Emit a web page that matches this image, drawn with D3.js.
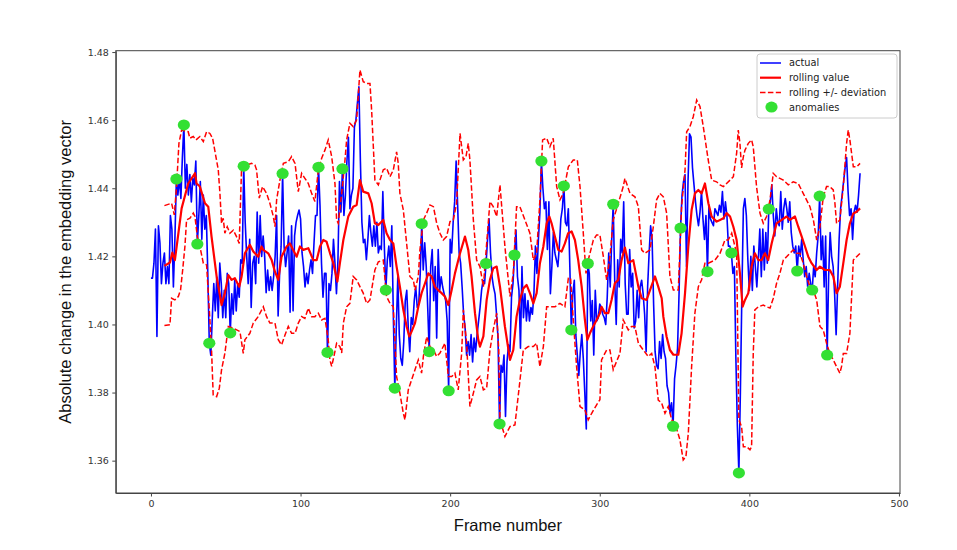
<html>
  <head>
    <script src="https://cdn.jsdelivr.net/npm/d3@7/dist/d3.min.js"></script>
    <style>
  body {
    margin: 0;
    background-color: #ffffff;
  }
  .tick text {
    font-family: "DejaVu Sans", sans-serif;
    font-size: 9.5px;
    fill: #333;
  }
  .tick line, .domain {
    stroke: #444;
  }
  .axis-label {
    font-family: "Liberation Sans", Arial, sans-serif;
    font-size: 16.5px;
    fill: #111;
  }
  .legend-text {
    font-family: "DejaVu Sans", sans-serif;
    font-size: 9.8px;
    fill: #222;
  }
    </style>
  </head>
  <body>
    <div id="chart"></div>
    <script>

// absolute change per frame (frame = index)
const actual = [
  1.4136,1.4136,1.418,1.428,1.3965,1.429,1.424,1.412,1.418,1.421,
  1.412,1.417,1.412,1.432,1.428,1.411,1.425,1.4427,1.438,1.443,
  1.437,1.449,1.4586,1.440,1.447,1.438,1.444,1.436,1.443,1.441,
  1.448,1.4236,1.432,1.442,1.425,1.438,1.428,1.432,1.415,1.3945,
  1.391,1.402,1.412,1.404,1.414,1.402,1.418,1.412,1.402,1.410,
  1.402,1.415,1.412,1.3975,1.409,1.403,1.413,1.404,1.412,1.408,
  1.419,1.418,1.4465,1.430,1.420,1.412,1.425,1.405,1.418,1.420,
  1.412,1.433,1.418,1.432,1.420,1.426,1.420,1.4093,1.416,1.410,
  1.414,1.410,1.414,1.420,1.432,1.4025,1.415,1.423,1.4443,1.4229,
  1.417,1.421,1.426,1.4036,1.429,1.404,1.426,1.430,1.432,1.4336,
  1.431,1.421,1.417,1.411,1.415,1.412,1.416,1.419,1.415,1.424,
  1.432,1.432,1.4462,1.435,1.418,1.408,1.415,1.415,1.3918,1.412,
  1.410,1.415,1.425,1.418,1.409,1.419,1.442,1.433,1.4457,1.432,
  1.438,1.448,1.455,1.434,1.438,1.440,1.458,1.460,1.465,1.4698,
  1.448,1.430,1.424,1.425,1.419,1.425,1.432,1.427,1.423,1.429,
  1.423,1.430,1.421,1.423,1.422,1.439,1.423,1.4101,1.419,1.423,
  1.417,1.429,1.403,1.3813,1.399,1.414,1.397,1.390,1.388,1.395,
  1.407,1.410,1.399,1.392,1.402,1.400,1.407,1.411,1.405,1.406,
  1.415,1.4296,1.416,1.424,1.417,1.405,1.392,1.417,1.422,1.407,
  1.417,1.396,1.422,1.410,1.414,1.411,1.409,1.407,1.401,1.3805,
  1.425,1.421,1.430,1.436,1.448,1.435,1.421,1.418,1.411,1.403,
  1.399,1.391,1.395,1.391,1.397,1.389,1.396,1.392,1.397,1.401,
  1.405,1.410,1.413,1.412,1.4179,1.425,1.431,1.421,1.414,1.411,
  1.409,1.403,1.396,1.3708,1.388,1.386,1.391,1.373,1.389,1.394,
  1.392,1.408,1.412,1.4204,1.4277,1.414,1.410,1.393,1.417,1.402,
  1.409,1.401,1.407,1.401,1.405,1.403,1.409,1.423,1.415,1.425,
  1.433,1.448,1.440,1.434,1.436,1.422,1.436,1.409,1.417,1.427,
  1.421,1.419,1.417,1.423,1.431,1.434,1.4407,1.430,1.429,1.434,
  1.417,1.3984,1.409,1.413,1.397,1.391,1.385,1.392,1.397,1.390,
  1.380,1.3693,1.4179,1.415,1.401,1.407,1.391,1.410,1.401,1.402,
  1.406,1.405,1.403,1.402,1.400,1.408,1.421,1.411,1.425,1.4353,
  1.413,1.400,1.419,1.411,1.425,1.421,1.436,1.412,1.403,1.403,
  1.422,1.411,1.415,1.399,1.401,1.410,1.402,1.411,1.413,1.409,
  1.403,1.392,1.411,1.421,1.429,1.425,1.406,1.392,1.388,1.387,
  1.395,1.390,1.397,1.392,1.390,1.382,1.380,1.374,1.377,1.3701,
  1.384,1.388,1.393,1.409,1.4283,1.438,1.442,1.444,1.417,1.442,
  1.456,1.455,1.446,1.441,1.436,1.432,1.429,1.433,1.439,1.431,
  1.425,1.432,1.4155,1.435,1.431,1.430,1.429,1.434,1.433,1.432,
  1.435,1.433,1.439,1.431,1.436,1.432,1.423,1.423,1.421,1.415,
  1.417,1.390,1.370,1.3564,1.380,1.409,1.434,1.437,1.432,1.419,
  1.410,1.420,1.410,1.423,1.417,1.411,1.419,1.428,1.414,1.428,
  1.416,1.427,1.418,1.4339,1.436,1.441,1.432,1.426,1.434,1.430,
  1.429,1.439,1.428,1.434,1.437,1.434,1.430,1.436,1.427,1.423,
  1.421,1.423,1.4157,1.423,1.420,1.425,1.419,1.414,1.417,1.411,
  1.415,1.412,1.4101,1.417,1.414,1.421,1.426,1.4377,1.419,1.426,
  1.411,1.426,1.391,1.414,1.427,1.420,1.417,1.409,1.397,1.411,
  1.425,1.434,1.438,1.442,1.446,1.449,1.439,1.432,1.434,1.425,
  1.433,1.435,1.433,1.438,1.4444
];

// [frame, value]
const rollingValue = [
  [9,1.4172],[12.7,1.4182],[14.3,1.4211],[16,1.4189],[20.5,1.4341],[24.9,1.4414],[29.4,1.4444],[30.5,1.4414],
  [32.7,1.4405],[36.1,1.4356],[38.3,1.4346],[40.5,1.4258],[43.9,1.4141],[47.2,1.4057],[49.4,1.4092],[51.7,1.4145],
  [53.9,1.4131],[56.1,1.4136],[59,1.4111],[60.6,1.4141],[62.8,1.4209],[66.1,1.4234],[68.4,1.4214],[71.7,1.4199],
  [73.9,1.4229],[75.1,1.4219],[78.4,1.4209],[80.7,1.4189],[82.9,1.4155],[85.1,1.4131],[87.3,1.4199],[90.7,1.4229],
  [92.9,1.4238],[95.1,1.4219],[97.4,1.4199],[99.6,1.4229],[101.8,1.4219],[105.2,1.4224],[108.5,1.4189],[110.8,1.4189],
  [113,1.4229],[115.2,1.4248],[117.4,1.4243],[119.7,1.4209],[121.9,1.418],[124.6,1.4126],[126.3,1.418],[128.6,1.4248],
  [131.9,1.4317],[135.2,1.4346],[137.5,1.4351],[139.7,1.4424],[141.9,1.439],[145.3,1.4385],[147.5,1.4356],[149.7,1.4297],
  [152,1.4292],[155.3,1.4307],[157.5,1.4268],[159.8,1.4248],[162,1.4238],[164.2,1.417],[166.4,1.4111],[168.7,1.4043],
  [170.9,1.3994],[172.7,1.3965],[174.2,1.3979],[176.5,1.4004],[178.7,1.4052],[180.9,1.4092],[183.2,1.4121],[185.4,1.415],
  [187.6,1.4141],[189.8,1.4111],[192,1.4101],[194.3,1.4092],[196.5,1.4082],[198.8,1.4057],[201,1.4101],[203.2,1.415],
  [206.6,1.4209],[209.9,1.4258],[212.1,1.4219],[214.3,1.4141],[216.6,1.4033],[218.8,1.3955],[219.9,1.3935],[222.2,1.3965],
  [224.4,1.4072],[226.6,1.4131],[228.8,1.4165],[231.1,1.417],[233.3,1.4111],[236.6,1.3994],[240,1.3896],[242.2,1.3925],
  [244.4,1.4023],[246.6,1.4072],[248.9,1.4106],[251.1,1.4116],[253.3,1.4092],[255.6,1.4062],[257.8,1.4092],[260,1.418],
  [262.3,1.4229],[264.5,1.4297],[266.3,1.4317],[267.8,1.4297],[270,1.4258],[272.3,1.4219],[274.5,1.4214],[276.7,1.4238],
  [278.9,1.4268],[281.2,1.4273],[283.4,1.4248],[285.6,1.4189],[287.9,1.4111],[290.1,1.4013],[291.7,1.3955],[293.4,1.3974],
  [295.6,1.3994],[297.9,1.4013],[300.1,1.4033],[301.2,1.4052],[303.5,1.4033],[305.7,1.4033],[307.9,1.4072],[310.1,1.4121],
  [312.4,1.4131],[314.6,1.4189],[316.8,1.4226],[319.1,1.418],[322.4,1.4189],[325.8,1.4111],[328,1.4077],[331.3,1.4072],
  [333.6,1.4101],[336.9,1.4141],[339.1,1.4111],[341.4,1.4077],[342.5,1.4023],[344.7,1.3964],[346.9,1.3925],[349.2,1.3911],
  [352.5,1.3911],[354.7,1.3974],[357,1.4092],[359.2,1.4229],[361.4,1.4336],[363.6,1.4385],[365.9,1.4395],[368.1,1.4385],
  [370.3,1.4414],[372.6,1.4356],[374.8,1.4317],[378.1,1.4302],[380.4,1.4307],[382.6,1.4312],[384.8,1.4327],[387.1,1.4317],
  [389.3,1.4287],[391.5,1.4248],[393.7,1.415],[395.5,1.4052],[397.1,1.4072],[399.3,1.4092],[401.5,1.417],[403.7,1.4209],
  [406,1.4189],[408.2,1.4189],[410.4,1.4209],[412.6,1.4189],[414.9,1.4238],[418.2,1.4297],[421.6,1.4307],[424.9,1.4317],
  [427.1,1.4307],[430.5,1.4317],[432.7,1.4287],[435,1.4258],[437.2,1.4229],[439.4,1.4199],[441.6,1.418],[445,1.416],
  [447.2,1.417],[450.5,1.416],[453.8,1.416],[456.1,1.4141],[458.3,1.4092],[460.5,1.4111],[462.8,1.418],[465,1.4248],
  [467.2,1.4297],[469.5,1.4326],[471.7,1.4331],[474,1.4341]
];

const rollingUpper = [
  [9,1.4349],[13.8,1.4356],[15.6,1.4322],[17.1,1.4405],[18.7,1.4532],[20.5,1.4571],[24.9,1.4566],[26,1.4547],
  [28.3,1.4552],[30.1,1.4542],[32.7,1.4552],[35,1.4537],[37.2,1.4566],[39.4,1.4561],[41.2,1.4547],[45,1.4454],
  [46.1,1.4385],[47.2,1.4297],[48.3,1.4312],[49.4,1.4268],[51,1.4287],[52.8,1.4268],[55,1.4277],[57.2,1.4258],
  [59,1.4238],[60.6,1.4463],[63.9,1.4468],[67.3,1.4473],[69.5,1.4468],[70.6,1.4454],[72.4,1.4371],[74.6,1.4405],
  [77.3,1.4385],[79.5,1.4356],[81.8,1.4317],[82.9,1.4287],[84,1.4366],[86.2,1.4424],[88.5,1.4473],[91.8,1.4478],
  [94,1.4493],[96.3,1.4473],[98.5,1.439],[100.7,1.4444],[102.9,1.4429],[105.2,1.4414],[107.4,1.4385],[109.6,1.4361],
  [111.9,1.4454],[114.1,1.4488],[116.3,1.4512],[118.5,1.4542],[120.8,1.4493],[123,1.4414],[124.1,1.4307],[125.2,1.4297],
  [127.5,1.4385],[129.7,1.4483],[130.8,1.4542],[133,1.4591],[135.2,1.4581],[137.5,1.4601],[139.7,1.4747],[141.9,1.4713],
  [144.2,1.4708],[146.4,1.4708],[147.5,1.463],[149.7,1.4424],[152,1.441],[155.3,1.4454],[157.5,1.4459],[159.8,1.4434],
  [162,1.4454],[164.2,1.4507],[165.3,1.4473],[166.4,1.4385],[168.7,1.4336],[170.9,1.4238],[173.1,1.4141],[175.4,1.4131],
  [176.5,1.4101],[178.7,1.4141],[179.8,1.4219],[182.1,1.4307],[184.3,1.4327],[186.5,1.4351],[188.8,1.4346],[191,1.4297],
  [193.2,1.4268],[195.4,1.4248],[197.6,1.4258],[199.9,1.4302],[202.1,1.4307],[204.3,1.4356],[206.6,1.4561],[208.8,1.4483],
  [210.6,1.4493],[212.1,1.4532],[213.2,1.4483],[215.5,1.4307],[217.7,1.4189],[219.9,1.417],[222.2,1.4111],[224.4,1.4238],
  [226.6,1.4361],[228.8,1.4346],[231.1,1.4317],[233.3,1.441],[236.6,1.4229],[240,1.4082],[242.2,1.415],[244.4,1.4346],
  [246.6,1.4346],[250,1.4307],[253.3,1.4268],[255.6,1.4189],[257.8,1.4209],[260,1.4366],[261.8,1.4542],[264.5,1.4547],
  [266.7,1.4522],[268.9,1.4547],[271.2,1.4405],[273.4,1.4366],[275.6,1.4385],[279,1.4463],[282.3,1.4483],[285,1.4483],
  [286.8,1.4405],[289,1.4268],[290.8,1.415],[292.3,1.4189],[295.7,1.4248],[297.9,1.4263],[300.1,1.4263],[302.4,1.4199],
  [304.6,1.4131],[306.8,1.4199],[309,1.4307],[312.4,1.4356],[315.7,1.4405],[316.8,1.4429],[320.2,1.4385],[323.5,1.4375],
  [325.8,1.4346],[328,1.4219],[330.2,1.4209],[333.6,1.4219],[335.8,1.4287],[338,1.4366],[340.2,1.4385],[342.5,1.4375],
  [344.7,1.4327],[346.9,1.4141],[349.2,1.4101],[352.5,1.4101],[354.7,1.4346],[357,1.4454],[358.1,1.4566],[360.3,1.4581],
  [362.5,1.461],[364.8,1.4659],[367,1.464],[369.2,1.4581],[372.5,1.4483],[374.8,1.4424],[378.1,1.4419],[380.4,1.441],
  [382.6,1.4405],[387.1,1.4424],[389.3,1.4434],[391.5,1.4503],[392.6,1.4571],[393.7,1.4532],[394.8,1.446],[396,1.4493],
  [397.1,1.4512],[399.3,1.4532],[401.5,1.4542],[402.6,1.4522],[404.8,1.4405],[407.1,1.4327],[409.3,1.4297],[411.5,1.4317],
  [413.8,1.4366],[416,1.4444],[418.2,1.4434],[420.4,1.4429],[422.7,1.4424],[426,1.441],[429.3,1.4419],[432.7,1.4414],
  [436,1.4385],[440.5,1.4346],[442.8,1.4307],[445,1.4248],[447.2,1.4287],[449.4,1.4375],[451.6,1.4405],[453.8,1.4405],
  [456.1,1.4395],[457.2,1.4356],[458.3,1.4297],[460.5,1.4307],[462.8,1.4405],[465,1.4532],[466.1,1.4571],[467.2,1.4542],
  [469.5,1.4463],[471.7,1.4463],[474,1.4473]
];

const rollingLower = [
  [9,1.3997],[12.7,1.3999],[13.8,1.4077],[16,1.4072],[18.3,1.4082],[19.8,1.4102],[21.2,1.416],[22.7,1.4229],
  [23.8,1.4307],[26.1,1.4312],[28.3,1.4327],[29.4,1.4317],[31,1.4258],[32.7,1.4229],[35,1.418],[37.2,1.4175],
  [39.4,1.4013],[40.5,1.3925],[41.6,1.3793],[43.9,1.3788],[45.7,1.3813],[47.2,1.3867],[49.4,1.3915],[51.7,1.3994],
  [55,1.3989],[59.5,1.3979],[61.7,1.3915],[62.8,1.3955],[66.1,1.3974],[68.4,1.4004],[71.7,1.4023],[75.1,1.4052],
  [77.3,1.4023],[79.5,1.4004],[82.9,1.4004],[85.1,1.3955],[87.3,1.394],[89.6,1.3969],[91.8,1.3994],[94,1.3974],
  [96.3,1.3974],[98.5,1.4004],[100.7,1.4023],[102.9,1.4018],[105.2,1.4048],[107.4,1.4023],[109.6,1.4023],[111.9,1.4033],
  [114.1,1.4013],[116.3,1.4018],[118.5,1.3955],[119.6,1.3896],[120.8,1.3877],[122.3,1.3906],[124.1,1.3945],[126.3,1.3935],
  [127.5,1.3916],[128.6,1.4004],[130.8,1.4052],[133,1.4062],[135.2,1.4141],[137.5,1.4131],[139.7,1.4111],[141.9,1.4092],
  [144.2,1.4062],[146.4,1.4072],[149.7,1.416],[152,1.4184],[155.3,1.4189],[157.5,1.4082],[159.8,1.4062],[162,1.4052],
  [164.2,1.3847],[166.4,1.3798],[168.7,1.3739],[169.8,1.372],[172,1.3808],[174.2,1.3837],[176.5,1.3867],[178.7,1.3896],
  [180.9,1.3857],[182.1,1.3906],[184.3,1.3964],[186.5,1.3935],[188.8,1.3925],[191,1.3906],[193.2,1.3916],[196.5,1.3945],
  [198.8,1.3847],[201,1.3847],[203.2,1.3857],[205.4,1.3808],[207.7,1.3916],[208.8,1.4043],[211,1.3945],[213.2,1.3759],
  [215.5,1.3798],[217.7,1.3837],[219.9,1.3847],[222.2,1.3808],[224.4,1.3813],[226.6,1.3925],[228.8,1.3984],[231.1,1.4033],
  [232.5,1.3925],[233.3,1.372],[236.6,1.3671],[240,1.37],[243.3,1.3705],[246.7,1.3837],[248.9,1.3925],[252.2,1.3935],
  [255.6,1.3935],[257.8,1.3945],[260,1.3876],[262.3,1.3935],[264.5,1.4052],[270.1,1.4052],[273.4,1.4062],[276.7,1.4052],
  [279,1.4136],[280.5,1.4136],[282.3,1.4013],[284.5,1.3877],[286.8,1.3759],[290.1,1.3749],[292.3,1.372],[294.6,1.3739],
  [297.9,1.3764],[300.1,1.3779],[301.2,1.3896],[304.6,1.3925],[306.8,1.3925],[309,1.3867],[311.2,1.3891],[313.5,1.3915],
  [315.7,1.4013],[319.1,1.3984],[321.3,1.3994],[323.5,1.3994],[325.8,1.3945],[329.1,1.3925],[332.4,1.3906],[334.7,1.3915],
  [336.9,1.3876],[339.1,1.3778],[341.4,1.3769],[343.6,1.3739],[345.8,1.3759],[348.1,1.372],[350.3,1.371],[353.6,1.3661],
  [355.8,1.3602],[357.6,1.3612],[359.2,1.3681],[361.4,1.3876],[363.6,1.4033],[365.9,1.4111],[368.1,1.4131],[370.3,1.418],
  [372.6,1.418],[377,1.4189],[380.4,1.4209],[383.7,1.4248],[385.9,1.4248],[388.2,1.4268],[391.5,1.4209],[393,1.372],
  [394.8,1.37],[396,1.3641],[398.2,1.3641],[400.4,1.3632],[401.5,1.3641],[402.6,1.3915],[403.7,1.4043],[406,1.4052],
  [409.3,1.4057],[411.5,1.4052],[413.8,1.4048],[416,1.4077],[418.2,1.4121],[420.4,1.415],[422.7,1.4189],[424.9,1.4199],
  [427.1,1.4209],[429.3,1.4219],[431.6,1.4209],[433.8,1.4209],[436,1.418],[438.3,1.4141],[440.5,1.4111],[442.7,1.4101],
  [445,1.4072],[447.2,1.3994],[449.4,1.3984],[451.6,1.3945],[453.8,1.3915],[456.1,1.3896],[458.3,1.3876],[460.5,1.3857],
  [461.6,1.3876],[462.8,1.3915],[465,1.3915],[467.2,1.3974],[469.5,1.4189],[471.7,1.4199],[474,1.4209]
];

// frames flagged as anomalies (value taken from actual)
const anomalyFrames = [17,22,31,39,53,62,88,112,118,128,157,163,181,186,199,224,233,243,
  261,276,281,292,309,349,354,372,388,393,413,432,442,447,452];

const xTicks = [0, 100, 200, 300, 400, 500];
const yTicks = [1.36, 1.38, 1.40, 1.42, 1.44, 1.46, 1.48];
const legendLabels = ["actual", "rolling value", "rolling +/- deviation", "anomalies"];

const width = 957;
const height = 550;
const plot = { left: 115.8, right: 900, top: 50.7, bottom: 493 };

const svg = d3.select("#chart")
  .append("svg")
  .attr("width", width)
  .attr("height", height);

const x = d3.scaleLinear().domain([-23.5, 500.7]).range([plot.left, plot.right]);
const y = d3.scaleLinear().domain([1.3505, 1.4804]).range([plot.bottom, plot.top]);

// axes
svg.append("g")
  .attr("transform", `translate(0, ${plot.bottom})`)
  .call(d3.axisBottom(x).tickValues(xTicks).tickFormat(d3.format("d")).tickSize(3.5).tickSizeOuter(0).tickPadding(3.5));

svg.append("g")
  .attr("transform", `translate(${plot.left}, 0)`)
  .call(d3.axisLeft(y).tickValues(yTicks).tickFormat(d3.format(".2f")).tickSize(3.5).tickSizeOuter(0).tickPadding(3.5));

const line = d3.line().x(d => x(d[0])).y(d => y(d[1]));

const g = svg.append("g");

g.append("path")
  .datum(actual.map((v, i) => [i, v]))
  .attr("d", line)
  .attr("fill", "none")
  .attr("stroke", "#0000ff")
  .attr("stroke-width", 1.6)
  .attr("stroke-linejoin", "round");

g.append("path")
  .datum(rollingValue)
  .attr("d", line)
  .attr("fill", "none")
  .attr("stroke", "#ff0000")
  .attr("stroke-width", 2.2)
  .attr("stroke-linejoin", "round");

[rollingUpper, rollingLower].forEach(band => {
  g.append("path")
    .datum(band)
    .attr("d", line)
    .attr("fill", "none")
    .attr("stroke", "#ff0000")
    .attr("stroke-width", 1.5)
    .attr("stroke-dasharray", "5.5,2.4");
});

g.selectAll(".anomaly")
  .data(anomalyFrames)
  .enter()
  .append("ellipse")
  .attr("class", "anomaly")
  .attr("cx", d => x(d))
  .attr("cy", d => y(actual[d]))
  .attr("rx", 6.1)
  .attr("ry", 5.5)
  .attr("fill", "#33e033");

// frame around the plot
svg.append("rect")
  .attr("x", plot.left)
  .attr("y", plot.top)
  .attr("width", plot.right - plot.left)
  .attr("height", plot.bottom - plot.top)
  .attr("fill", "none")
  .attr("stroke", "#444")
  .attr("stroke-width", 1);

// axis labels
svg.append("text")
  .attr("class", "axis-label")
  .attr("x", (plot.left + plot.right) / 2)
  .attr("y", 531)
  .attr("text-anchor", "middle")
  .text("Frame number");

svg.append("text")
  .attr("class", "axis-label")
  .attr("transform", `translate(71, ${(plot.top + plot.bottom) / 2}) rotate(-90)`)
  .attr("text-anchor", "middle")
  .text("Absolute change in the embedding vector");

// legend
const legend = svg.append("g").attr("transform", "translate(757, 54)");
legend.append("rect")
  .attr("width", 140)
  .attr("height", 64)
  .attr("rx", 3)
  .attr("fill", "#fff")
  .attr("fill-opacity", 0.85)
  .attr("stroke", "#ccc");

const rows = legend.selectAll(".row")
  .data(legendLabels)
  .enter()
  .append("g")
  .attr("transform", (d, i) => `translate(0, ${9 + i * 14.7})`);

rows.each(function (d, i) {
  const r = d3.select(this);
  if (i < 3) {
    r.append("line")
      .attr("x1", 3).attr("x2", 24)
      .attr("stroke", i === 0 ? "#0000ff" : "#ff0000")
      .attr("stroke-width", i === 1 ? 2.2 : 1.5)
      .attr("stroke-dasharray", i === 2 ? "5.5,2.4" : null);
  } else {
    r.append("ellipse")
      .attr("cx", 14.5).attr("rx", 6.1).attr("ry", 5.5)
      .attr("fill", "#33e033");
  }
  r.append("text")
    .attr("class", "legend-text")
    .attr("x", 32)
    .attr("dy", "0.35em")
    .text(d);
});

</script>
  </body>
</html>
